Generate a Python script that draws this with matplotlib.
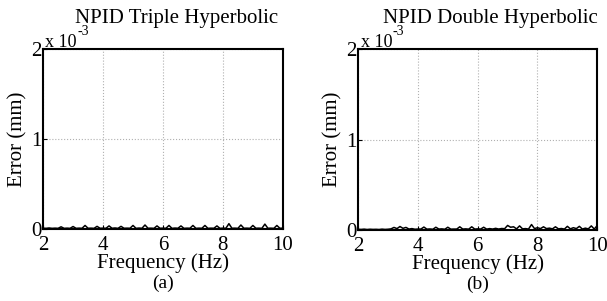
import numpy as np
import matplotlib
matplotlib.use("Agg")
import matplotlib.pyplot as plt

plt.rcParams['font.family'] = ['Liberation Serif', 'DejaVu Serif']

# frequency grid (Hz)
freq = [2.0, 2.1, 2.2, 2.3, 2.4, 2.5, 2.6, 2.7, 2.8, 2.9,
        3.0, 3.1, 3.2, 3.3, 3.4, 3.5, 3.6, 3.7, 3.8, 3.9,
        4.0, 4.1, 4.2, 4.3, 4.4, 4.5, 4.6, 4.7, 4.8, 4.9,
        5.0, 5.1, 5.2, 5.3, 5.4, 5.5, 5.6, 5.7, 5.8, 5.9,
        6.0, 6.1, 6.2, 6.3, 6.4, 6.5, 6.6, 6.7, 6.8, 6.9,
        7.0, 7.1, 7.2, 7.3, 7.4, 7.5, 7.6, 7.7, 7.8, 7.9,
        8.0, 8.1, 8.2, 8.3, 8.4, 8.5, 8.6, 8.7, 8.8, 8.9,
        9.0, 9.1, 9.2, 9.3, 9.4, 9.5, 9.6, 9.7, 9.8, 9.9, 10.0]

# error in units of 1e-5 mm
err_triple = [1.0, 0.8, 1.2, 0.8, 1.0, 0.8, 2.5, 0.8, 1.0, 0.8,
              2.8, 0.8, 1.0, 0.9, 4.0, 0.9, 1.0, 0.8, 3.0, 0.9,
              1.0, 0.9, 3.5, 0.9, 1.2, 0.8, 3.0, 0.9, 1.0, 0.9,
              4.0, 0.8, 1.1, 0.9, 4.5, 0.9, 1.0, 0.8, 3.5, 0.9,
              1.0, 0.9, 4.0, 0.8, 1.1, 0.9, 3.5, 0.8, 1.0, 0.9,
              4.0, 0.8, 1.0, 0.9, 4.0, 0.8, 1.0, 0.9, 3.5, 0.8,
              1.0, 0.9, 6.0, 0.9, 1.0, 0.8, 4.5, 0.9, 1.0, 0.8,
              4.0, 0.9, 1.0, 0.8, 5.5, 0.9, 1.0, 0.8, 4.0, 0.9, 1.0]

err_double = [0.8, 0.6, 0.9, 0.5, 0.8, 0.6, 0.7, 0.5, 0.9, 0.6,
              0.8, 1.2, 2.8, 1.5, 3.8, 1.8, 2.8, 1.0, 1.5, 0.8,
              1.0, 1.0, 3.2, 0.9, 1.1, 0.8, 3.0, 1.0, 1.2, 0.8,
              3.0, 0.9, 1.0, 1.0, 3.5, 1.0, 1.2, 0.9, 3.5, 1.0,
              1.2, 1.0, 3.0, 0.9, 1.5, 1.0, 1.8, 1.0, 1.6, 1.4,
              5.0, 3.0, 3.5, 1.2, 4.5, 1.2, 1.5, 1.0, 6.0, 1.5,
              2.5, 1.5, 3.5, 1.5, 2.0, 1.2, 3.5, 1.2, 1.6, 1.0,
              4.0, 1.2, 2.5, 1.5, 4.0, 1.0, 2.0, 1.2, 4.5, 1.0, 5.0]

titles = ["NPID Triple Hyperbolic", "NPID Double Hyperbolic"]
captions = ["(a)", "(b)"]
xticks = [2, 4, 6, 8, 10]
yticks = [0, 1e-3, 2e-3]
ytick_labels = ["0", "1", "2"]

fig = plt.figure(figsize=(6.07, 3.01), dpi=100)
rects = [[0.071, 0.239, 0.395, 0.598], [0.590, 0.236, 0.394, 0.601]]

for rect, err, title, cap in zip(rects, [err_triple, err_double], titles, captions):
    ax = fig.add_axes(rect)
    ax.plot(freq, np.array(err) * 1e-5, color='black', lw=1.1)
    ax.set_xlim(2, 10)
    ax.set_ylim(0, 2e-3)
    ax.set_xticks(xticks)
    ax.set_yticks(yticks)
    ax.set_yticklabels(ytick_labels)
    ax.tick_params(direction='in', length=3, width=0.8, labelsize=15)
    ax.tick_params(axis='x', pad=5)
    ax.tick_params(axis='y', pad=1)
    ax.grid(True, color='#b0b0b0', ls=':', lw=0.8)
    for s in ax.spines.values():
        s.set_linewidth(1.5)
    ax.text(0.555, 1.144, title, transform=ax.transAxes, fontsize=15,
            ha='center', va='baseline')
    ax.set_xlabel("Frequency (Hz)", fontsize=15, labelpad=-1)
    ax.set_ylabel("Error (mm)", fontsize=15, labelpad=3)
    ax.text(0.01, 1.011, "x 10", transform=ax.transAxes, fontsize=13,
            va='baseline', ha='left')
    ax.text(0.142, 1.078, "-3", transform=ax.transAxes, fontsize=10,
            va='baseline', ha='left')
    ax.text(0.5, -0.30, cap, transform=ax.transAxes, fontsize=14,
            ha='center', va='center')

fig.savefig("out.png", dpi=100)
